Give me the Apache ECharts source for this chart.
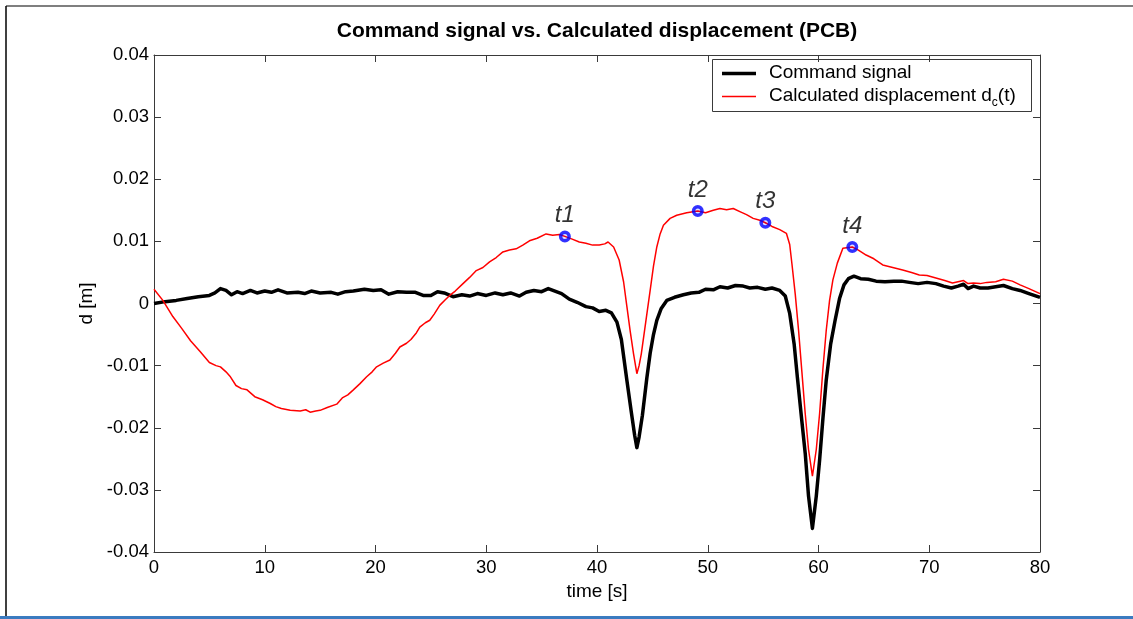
<!DOCTYPE html>
<html>
<head>
<meta charset="utf-8">
<title>Command signal vs. Calculated displacement (PCB)</title>
<script src="https://cdn.jsdelivr.net/npm/echarts@6/dist/echarts.min.js"></script>
<style>
  html, body { margin: 0; padding: 0; background: #ffffff; }
  #chart { width: 1133px; height: 619px; }
</style>
</head>
<body>
<div id="chart"></div>
<script>
// Command signal d(t) [m]
const cmdTime = [0, 1, 2, 3, 4, 5, 5.5, 6.0, 6.5, 7.0, 7.5, 8.0, 8.7, 9.3, 10.0, 10.6, 11.2, 12.0, 13.0, 13.6,
  14.2, 15.0, 16.0, 16.6, 17.3, 18.0, 19.0, 19.8, 20.5, 21.2, 22.0, 22.8, 23.6, 24.3, 25.0, 25.6, 26.2, 27.0,
  27.8, 28.5, 29.2, 30.0, 30.8, 31.5, 32.2, 33.0, 33.6, 34.3, 35.0, 35.6, 36.2, 36.8, 37.5, 38.2, 39.0, 39.6,
  40.2, 40.8, 41.3, 41.8, 42.2, 42.7, 43.1, 43.4, 43.6, 43.8, 44.1, 44.5, 44.8, 45.1, 45.4, 45.8, 46.3, 47.0,
  47.8, 48.5, 49.2, 49.8, 50.5, 51.1, 51.8, 52.5, 53.2, 53.8, 54.5, 55.2, 55.8, 56.5, 57.0, 57.4, 57.8, 58.1,
  58.5, 58.8, 59.1, 59.45, 59.8, 60.1, 60.4, 60.7, 61.1, 61.5, 61.9, 62.3, 62.7, 63.2, 63.8, 64.5, 65.2, 66.0,
  66.8, 67.5, 68.2, 69.0, 69.8, 70.6, 71.3, 72.0, 72.6, 73.1, 73.5, 74.0, 74.6, 75.3, 76.0, 76.7, 77.5, 78.2,
  79.0, 80.0];
const cmdDisp = [0, 0.0003, 0.0005, 0.0008, 0.0011, 0.0013, 0.0017, 0.0024, 0.0021, 0.0014, 0.0019, 0.0016,
  0.0021, 0.0017, 0.0020, 0.0018, 0.0022, 0.0017, 0.0018, 0.0016, 0.0020, 0.0017, 0.0018, 0.0015, 0.0019,
  0.0020, 0.0023, 0.0021, 0.0022, 0.0015, 0.0019, 0.0018, 0.0018, 0.0013, 0.0013, 0.0019, 0.0017, 0.0011,
  0.0014, 0.0012, 0.0016, 0.0013, 0.0017, 0.0014, 0.0017, 0.0012, 0.0018, 0.0021, 0.0019, 0.0024, 0.0020,
  0.0016, 0.0007, 0.0002, -0.0005, -0.0007, -0.0013, -0.0011, -0.0015, -0.0030, -0.0058, -0.0124, -0.0175,
  -0.0212, -0.0232, -0.0215, -0.0180, -0.0120, -0.0080, -0.0050, -0.0027, -0.0008, 0.0005, 0.0010, 0.0014,
  0.0017, 0.0018, 0.0023, 0.0022, 0.0027, 0.0025, 0.0029, 0.0028, 0.0025, 0.0026, 0.0023, 0.0025, 0.0021,
  0.0012, -0.0016, -0.0065, -0.0120, -0.0190, -0.0241, -0.0310, -0.0362, -0.0310, -0.0252, -0.0185, -0.0123,
  -0.0065, -0.0027, 0.0008, 0.0030, 0.0040, 0.0044, 0.0040, 0.0039, 0.0036, 0.0035, 0.0036, 0.0036, 0.0034,
  0.0032, 0.0034, 0.0032, 0.0028, 0.0025, 0.0028, 0.0031, 0.0024, 0.0028, 0.0025, 0.0025, 0.0027, 0.0029,
  0.0024, 0.0021, 0.0016, 0.0010];

// Calculated displacement d_c(t) [m]
const calcTime = [0, 0.8, 1.7, 2.5, 3.3, 4.2, 5.0, 5.6, 6.0, 6.5, 6.9, 7.4, 7.9, 8.4, 9.1, 9.8, 10.5, 11.0,
  11.5, 12.3, 13.2, 13.7, 14.1, 14.6, 15.0, 15.7, 16.5, 17.0, 17.5, 18.0, 18.6, 19.2, 19.7, 20.1, 20.7, 21.3,
  21.8, 22.2, 22.8, 23.2, 23.7, 24.0, 24.5, 24.9, 25.3, 25.8, 26.3, 26.7, 27.2, 27.9, 28.5, 29.1, 29.7, 30.3,
  30.9, 31.5, 32.1, 32.7, 33.3, 33.9, 34.6, 35.4, 36.0, 36.6, 37.1, 37.7, 38.4, 39.0, 39.6, 40.2, 40.7, 41.0,
  41.5, 42.0, 42.4, 42.7, 43.0, 43.3, 43.6, 43.8, 44.0, 44.4, 44.8, 45.1, 45.4, 45.7, 46.0, 46.6, 47.2, 48.1,
  49.1, 49.8, 50.5, 51.1, 51.7, 52.3, 52.9, 53.5, 54.1, 54.7, 55.2, 55.8, 56.5, 57.1, 57.4, 57.6, 57.9, 58.2,
  58.5, 58.8, 59.1, 59.45, 59.8, 60.1, 60.4, 60.7, 61.0, 61.3, 61.7, 62.2, 63.05, 63.6, 64.3, 65.0, 65.8, 66.7,
  67.6, 68.4, 69.1, 69.8, 70.6, 71.4, 72.1, 72.6, 73.1, 73.5, 74.0, 74.6, 75.2, 76.0, 76.7, 77.5, 78.2, 79.0,
  80.0];
const calcDisp = [0.0023, 0.0005, -0.0021, -0.0040, -0.0060, -0.0078, -0.0095, -0.0100, -0.0102, -0.0110,
  -0.0118, -0.0132, -0.0137, -0.0139, -0.0150, -0.0155, -0.0161, -0.0166, -0.0169, -0.0172, -0.0173, -0.0171,
  -0.0175, -0.0173, -0.0172, -0.0167, -0.0162, -0.0152, -0.0147, -0.0139, -0.0129, -0.0118, -0.0110, -0.0102,
  -0.0096, -0.0091, -0.0080, -0.0070, -0.0064, -0.0058, -0.0047, -0.0038, -0.0031, -0.0027, -0.0017, -0.0003,
  0.0006, 0.0013, 0.0020, 0.0032, 0.0042, 0.0053, 0.0058, 0.0067, 0.0074, 0.0083, 0.0086, 0.0088, 0.0094,
  0.0101, 0.0105, 0.0112, 0.0110, 0.0111, 0.0108, 0.0104, 0.0099, 0.0097, 0.0094, 0.0094, 0.0096, 0.0099,
  0.0091, 0.0070, 0.0035, -0.0005, -0.0045, -0.0081, -0.0113, -0.0100, -0.0081, -0.0030, 0.0021, 0.0060,
  0.0091, 0.0112, 0.0126, 0.0137, 0.0142, 0.0146, 0.0149, 0.0146, 0.0150, 0.0153, 0.0151, 0.0153, 0.0148,
  0.0143, 0.0137, 0.0134, 0.0130, 0.0124, 0.0119, 0.0113, 0.0095, 0.0064, 0.0015, -0.0043, -0.0110, -0.0177,
  -0.0235, -0.0278, -0.0235, -0.0177, -0.0105, -0.0043, 0.0005, 0.0038, 0.0065, 0.0089, 0.0091, 0.0086,
  0.0078, 0.0072, 0.0062, 0.0058, 0.0054, 0.0050, 0.0046, 0.0045, 0.0041, 0.0037, 0.0033, 0.0035, 0.0037,
  0.0032, 0.0033, 0.0032, 0.0034, 0.0035, 0.0039, 0.0036, 0.0030, 0.0024, 0.0016];

// Marked instants on the calculated displacement
const markNames = ['t1', 't2', 't3', 't4'];
const markTime = [37.1, 49.1, 55.2, 63.05];
const markDisp = [0.0108, 0.0149, 0.0130, 0.0091];

// Axis ticks
const xTicks = [0, 10, 20, 30, 40, 50, 60, 70, 80];
const yTicks = [-0.04, -0.03, -0.02, -0.01, 0, 0.01, 0.02, 0.03, 0.04];

const FONT = 'Arial, "Liberation Sans", Helvetica, sans-serif';
const zip = (a, b) => a.map((v, i) => [v, b[i]]);

const chart = echarts.init(document.getElementById('chart'), null, { renderer: 'canvas' });

const G = { left: 154, top: 55, width: 886, height: 497 };

const baseAxis = {
  axisLine: { show: true, onZero: false, lineStyle: { color: '#3a3a3a', width: 1 } },
  axisTick: { show: true, inside: true, length: 7, lineStyle: { color: '#3a3a3a', width: 1 } },
  splitLine: { show: false },
  axisLabel: { color: '#000', fontFamily: FONT, fontSize: 18.5 }
};

const option = {
  backgroundColor: '#ffffff',
  animation: false,
  title: {
    text: 'Command signal vs. Calculated displacement (PCB)',
    left: G.left + G.width / 2,
    textAlign: 'center',
    top: 21,
    padding: 0,
    textStyle: { fontFamily: FONT, fontSize: 21, fontWeight: 'bold', color: '#000' }
  },
  grid: { left: G.left, top: G.top, width: G.width, height: G.height, containLabel: false },
  xAxis: [
    Object.assign({}, baseAxis, {
      type: 'value', min: xTicks[0], max: xTicks[xTicks.length - 1], interval: 10,
      position: 'bottom',
      name: 'time [s]', nameLocation: 'middle', nameGap: 29,
      nameTextStyle: { fontFamily: FONT, fontSize: 19, color: '#000' },
      axisLabel: Object.assign({}, baseAxis.axisLabel, { margin: 6 })
    }),
    Object.assign({}, baseAxis, {
      type: 'value', min: xTicks[0], max: xTicks[xTicks.length - 1], interval: 10,
      position: 'top', axisLabel: { show: false }
    })
  ],
  yAxis: [
    Object.assign({}, baseAxis, {
      type: 'value', min: yTicks[0], max: yTicks[yTicks.length - 1], interval: 0.01,
      position: 'left',
      name: 'd [m]', nameLocation: 'middle', nameGap: 43,
      nameTextStyle: { fontFamily: FONT, fontSize: 19, color: '#000' },
      axisLabel: Object.assign({}, baseAxis.axisLabel, {
        margin: 5,
        formatter: v => String(+v.toFixed(2))
      })
    }),
    Object.assign({}, baseAxis, {
      type: 'value', min: yTicks[0], max: yTicks[yTicks.length - 1], interval: 0.01,
      position: 'right', axisLabel: { show: false }
    })
  ],
  series: [
    {
      name: 'Command signal',
      type: 'line',
      data: zip(cmdTime, cmdDisp),
      showSymbol: false,
      smooth: false,
      lineStyle: { color: '#000000', width: 3.5, join: 'round' },
      z: 2
    },
    {
      name: 'Calculated displacement',
      type: 'line',
      data: zip(calcTime, calcDisp),
      showSymbol: false,
      smooth: false,
      lineStyle: { color: '#ff0000', width: 1.5 },
      z: 3
    },
    {
      name: 'Marked instants',
      type: 'scatter',
      data: markTime.map((t, i) => ({ value: [t, markDisp[i]], name: markNames[i] })),
      symbol: 'circle',
      symbolSize: 8.5,
      itemStyle: { color: 'rgba(0,0,255,0.15)', borderColor: '#0000ff', borderWidth: 3.5 },
      label: {
        show: true,
        position: 'top',
        distance: 3,
        formatter: p => p.name,
        fontFamily: FONT,
        fontSize: 24,
        fontStyle: 'italic',
        color: '#000'
      },
      z: 4
    }
  ],
  graphic: [
    // outer frame
    { type: 'line', shape: { x1: 6, y1: 6, x2: 1133, y2: 6 }, style: { stroke: '#000', lineWidth: 1.2 }, silent: true },
    { type: 'line', shape: { x1: 6, y1: 6, x2: 6, y2: 616 }, style: { stroke: '#000', lineWidth: 1.5 }, silent: true },
    { type: 'rect', shape: { x: 0, y: 616, width: 1133, height: 3 }, style: { fill: '#3b7bc0' }, silent: true },
    // legend box
    {
      type: 'group', left: 712, top: 59,
      children: [
        { type: 'rect', shape: { x: 0.5, y: 0.5, width: 319, height: 52 }, style: { fill: '#ffffff', stroke: '#3a3a3a', lineWidth: 1 } },
        { type: 'line', shape: { x1: 10, y1: 14.5, x2: 44, y2: 14.5 }, style: { stroke: '#000000', lineWidth: 3.5 } },
        { type: 'line', shape: { x1: 10, y1: 37.5, x2: 44, y2: 37.5 }, style: { stroke: '#ff0000', lineWidth: 1.5 } },
        {
          type: 'text', x: 57, y: 14, style: {
            text: 'Command signal', fontFamily: FONT, fontSize: 19, fill: '#000', verticalAlign: 'middle'
          }
        },
        {
          type: 'text', x: 57, y: 37, style: {
            text: '{a|Calculated displacement d}{s|c}{a|(t)}',
            verticalAlign: 'middle',
            rich: {
              a: { fontFamily: FONT, fontSize: 19, color: '#000' },
              s: { fontFamily: FONT, fontSize: 12, color: '#000', padding: [13, 0, 0, 0] }
            }
          }
        }
      ]
    }
  ]
};

chart.setOption(option);
</script>
</body>
</html>
